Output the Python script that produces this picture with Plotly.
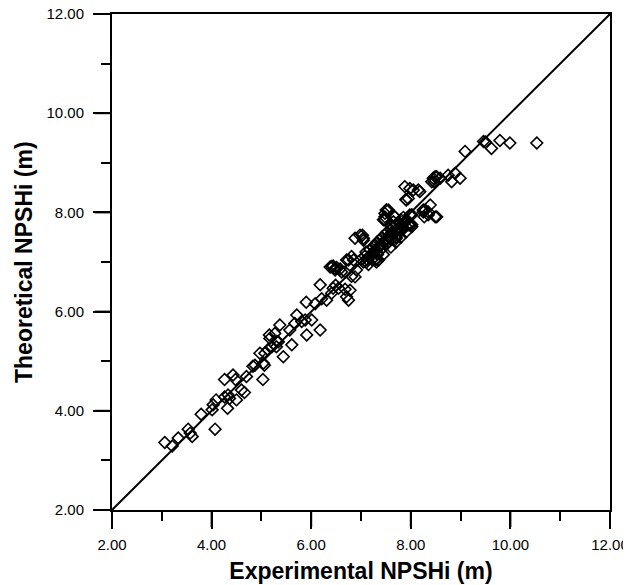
import plotly.graph_objects as go

# Experimental vs theoretical NPSHi (m)
exp_npshi = [
    3.06, 3.21, 3.33, 3.53, 3.61, 3.57, 3.79, 4.07, 4.01, 4.03, 4.09, 4.32, 4.26, 4.33, 4.36, 4.50,
    4.26, 4.43, 4.48, 4.60, 4.66, 4.70, 4.83, 4.97, 5.03, 5.06, 5.13, 5.16, 5.30, 5.31,
    4.87, 5.04, 5.07, 5.21, 5.17, 5.27, 5.37, 5.34, 5.44, 5.61, 5.57, 5.67, 5.71, 5.81, 5.91,
    5.88, 6.01, 6.18, 5.90, 6.08, 6.18, 6.21, 6.31, 6.41, 6.44, 6.49, 6.41, 6.48,
    6.38, 6.48, 6.61, 6.55, 6.68, 6.78, 6.75, 6.71, 6.88, 6.91, 6.75, 6.85, 6.98, 7.05, 7.11,
    7.31, 7.35, 7.25, 7.38, 7.51, 7.48, 7.68, 7.61, 7.71, 7.78, 7.98, 8.02, 8.25, 8.27, 7.91,
    10.53, 9.99, 9.79, 9.62, 9.46, 9.50, 9.09, 8.99, 8.89, 8.82, 8.75, 8.59, 8.49, 8.42,
    7.88, 7.98, 8.05, 8.18, 7.90, 8.39, 8.25, 8.35, 8.52, 8.02, 7.51, 7.48, 7.68, 8.02,
    7.00, 7.05, 7.08, 7.10, 7.12, 7.15, 7.18, 7.20, 7.22, 7.25, 7.25, 7.28, 7.30, 7.32, 7.33,
    7.35, 7.38, 7.40, 7.40, 7.42, 7.45, 7.45, 7.48, 7.50, 7.50, 7.52, 7.55, 7.55, 7.58, 7.60,
    7.60, 7.62, 7.65, 7.65, 7.68, 7.70, 7.70, 7.72, 7.75, 7.75, 7.78, 7.80, 7.80, 7.82, 7.85,
    7.85, 7.88, 7.90, 7.90, 7.92, 7.95, 7.60, 7.45, 7.30, 7.15, 7.70, 7.80,
    6.88, 7.05, 7.03, 7.48, 7.55, 7.45, 7.65, 7.98, 8.02, 7.95, 8.15, 8.29, 8.35, 8.49,
    8.45, 8.52, 8.47, 6.44, 6.51, 6.58, 6.68, 6.71, 6.81, 6.81, 7.31, 7.35,
]
theo_npshi = [
    3.36, 3.29, 3.45, 3.63, 3.48, 3.55, 3.93, 3.63, 4.02, 4.12, 4.22, 4.05, 4.28, 4.32, 4.25, 4.22,
    4.63, 4.72, 4.63, 4.42, 4.37, 4.69, 4.90, 5.16, 4.63, 4.92, 5.23, 5.53, 5.29, 5.40,
    4.92, 4.96, 5.16, 5.29, 5.46, 5.56, 5.73, 5.39, 5.09, 5.33, 5.63, 5.76, 5.93, 5.80, 5.53,
    5.83, 5.83, 5.63, 6.19, 6.16, 6.54, 6.26, 6.23, 6.37, 6.47, 6.53, 6.91, 6.84,
    6.90, 6.87, 6.80, 6.47, 6.45, 6.43, 6.23, 6.30, 6.70, 6.84, 7.04, 7.04, 7.54, 7.44, 7.00,
    7.00, 7.04, 7.17, 7.31, 8.05, 7.85, 7.91, 7.71, 7.48, 7.65, 7.75, 7.95, 8.01, 7.91, 8.25,
    9.40, 9.40, 9.45, 9.29, 9.43, 9.42, 9.23, 8.69, 8.79, 8.62, 8.75, 8.69, 8.72, 8.62,
    8.52, 8.48, 8.45, 8.42, 8.26, 8.15, 8.05, 7.95, 7.91, 7.95, 8.05, 7.91, 7.91, 7.71,
    7.05, 7.00, 7.12, 7.20, 7.05, 7.10, 7.25, 7.15, 7.05, 7.30, 7.20, 7.35, 7.25, 7.40, 7.15,
    7.30, 7.45, 7.35, 7.25, 7.50, 7.40, 7.30, 7.55, 7.45, 7.35, 7.60, 7.50, 7.40, 7.55, 7.65,
    7.45, 7.60, 7.55, 7.70, 7.62, 7.50, 7.75, 7.65, 7.58, 7.80, 7.70, 7.62, 7.85, 7.75, 7.68,
    7.90, 7.80, 7.72, 7.60, 7.85, 7.75, 7.30, 7.15, 7.05, 6.95, 7.40, 7.50,
    7.48, 7.48, 7.54, 7.98, 8.05, 7.85, 7.81, 7.95, 7.75, 8.28, 8.45, 8.05, 8.01, 7.91,
    8.69, 8.72, 8.62, 6.92, 6.89, 6.86, 6.80, 7.04, 7.11, 6.71, 7.07, 7.04,
]

# Line of perfect agreement (y = x)
ref_line_x = [2.0, 12.0]
ref_line_y = [2.0, 12.0]

axis_range = [2.0, 12.0]
major_ticks = [2, 4, 6, 8, 10, 12]
major_step = 2
minor_step = 1

FONT = "Liberation Sans, Arial, sans-serif"
TITLE_FONT = dict(family=FONT, size=23, color="black", weight="bold")
MAJOR_LEN = 17

fig = go.Figure()
fig.add_trace(go.Scatter(
    x=ref_line_x, y=ref_line_y, mode="lines",
    line=dict(color="black", width=2), showlegend=False, hoverinfo="skip",
))
fig.add_trace(go.Scatter(
    x=exp_npshi, y=theo_npshi, mode="markers",
    marker=dict(symbol="diamond-open", size=9, color="black", line=dict(width=1.6, color="black")),
    showlegend=False,
))

main_axis = dict(
    range=axis_range, tickmode="linear", tick0=axis_range[0], dtick=major_step, tickformat=".2f",
    ticks="outside", ticklen=MAJOR_LEN, tickwidth=2, tickcolor="#000000",
    minor=dict(tickmode="linear", tick0=axis_range[0], dtick=minor_step, ticks="outside",
               ticklen=9, tickwidth=2, tickcolor="#000000", showgrid=False),
    showline=True, linewidth=2, linecolor="black", mirror=True,
    showgrid=False, zeroline=False, automargin=False, ticklabeloverflow="allow",
    tickfont=dict(family=FONT, size=15, color="black"),
)

# long tick marks at the labelled values (pixel-sized, anchored to the axis values)
tick_shapes = []
for v in major_ticks:
    tick_shapes.append(dict(type="line", xref="x", yref="paper", ysizemode="pixel", yanchor=0,
                            x0=v, x1=v, y0=-MAJOR_LEN, y1=0,
                            line=dict(color="black", width=2), layer="above"))
    tick_shapes.append(dict(type="line", xref="paper", yref="y", xsizemode="pixel", xanchor=0,
                            x0=-MAJOR_LEN, x1=0, y0=v, y1=v,
                            line=dict(color="black", width=2), layer="above"))

fig.update_layout(
    width=623, height=577,
    margin=dict(l=104, r=21, t=6, b=75),
    paper_bgcolor="white", plot_bgcolor="white",
    xaxis=dict(**main_axis, ticklabelstandoff=3,
               title=dict(text="Experimental NPSHi (m)", font=TITLE_FONT, standoff=11)),
    yaxis=dict(**main_axis, ticklabelstandoff=6, title=dict(text="")),
    shapes=tick_shapes,
    annotations=[dict(text="Theoretical NPSHi (m)", textangle=-90, font=TITLE_FONT,
                      xref="paper", yref="paper", x=0, y=0.5, xanchor="center", yanchor="middle",
                      xshift=-88, showarrow=False)],
)

fig.write_html("out.html")
